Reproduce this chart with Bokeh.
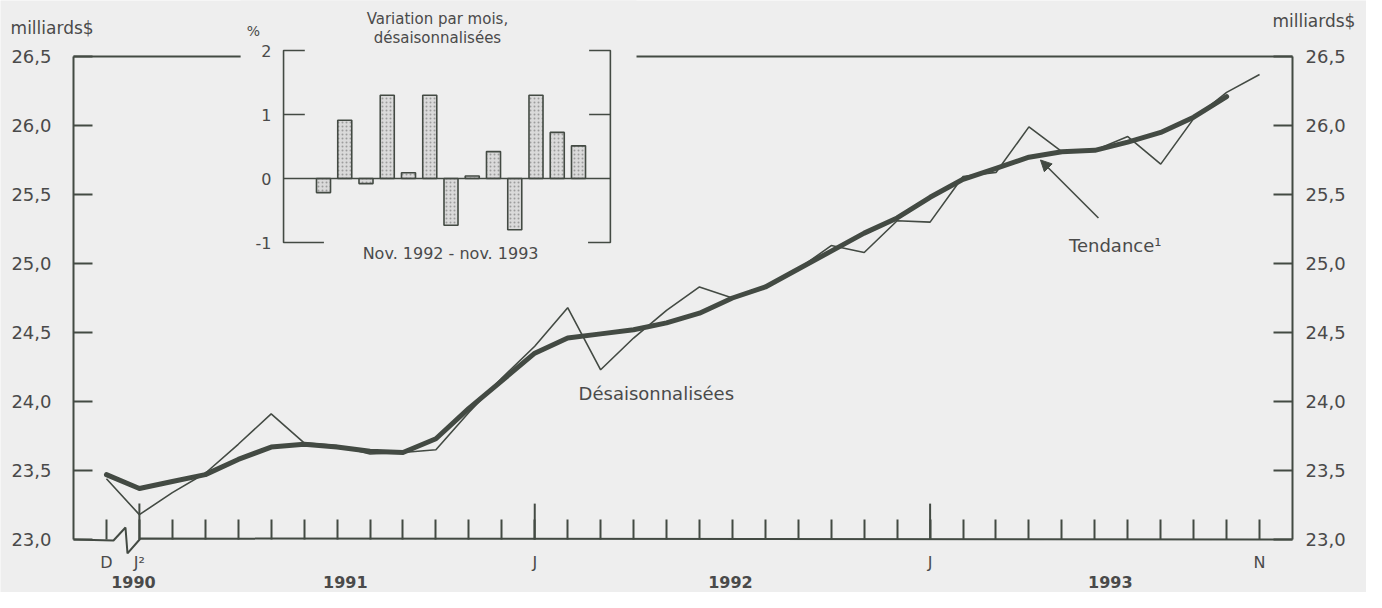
from bokeh.plotting import figure
from bokeh.models import (Range1d, LinearAxis, FixedTicker, Label, Arrow, NormalHead)
from bokeh.embed import file_html
from bokeh.resources import INLINE

# ---------------- data ----------------
# monthly index 0 = déc. 1990 ... 35 = nov. 1993
sa_values = [23.44,
             23.18, 23.34, 23.48, 23.69, 23.91, 23.70, 23.68, 23.62, 23.63, 23.65, 23.92, 24.17,
             24.40, 24.68, 24.23, 24.46, 24.66, 24.83, 24.75, 24.83, 24.96, 25.13, 25.08, 25.31,
             25.30, 25.63, 25.66, 25.99, 25.81, 25.82, 25.92, 25.72, 26.05, 26.24, 26.37]
trend_values = [23.47,
                23.37, 23.42, 23.47, 23.58, 23.67, 23.69, 23.67, 23.64, 23.63, 23.73, 23.95, 24.15,
                24.35, 24.46, 24.49, 24.52, 24.57, 24.64, 24.75, 24.83, 24.96, 25.09, 25.22, 25.33,
                25.48, 25.61, 25.69, 25.77, 25.81, 25.82, 25.88, 25.95, 26.06, 26.21]

inset_months = ["nov 92", "déc 92", "jan 93", "fév 93", "mar 93", "avr 93", "mai 93",
                "jun 93", "jul 93", "aoû 93", "sep 93", "oct 93", "nov 93"]
inset_change = [-0.22, 0.91, -0.08, 1.30, 0.09, 1.30, -0.73, 0.04, 0.42, -0.80, 1.30, 0.72, 0.51]

y_ticks = [23.0, 23.5, 24.0, 24.5, 25.0, 25.5, 26.0, 26.5]
y_tick_labels = ["23,0", "23,5", "24,0", "24,5", "25,0", "25,5", "26,0", "26,5"]
month_tick_pos = [0, 1, 13, 25, 35]
month_tick_labels = ["D", "J²", "J", "J", "N"]
year_labels = ["1990", "1991", "1992", "1993"]
year_label_pos = [0.82, 7.25, 18.94, 30.47]
inset_y_ticks = [2, 1, 0, -1]
inset_y_labels = ["2", "1", "0", "-1"]

# ---------------- style ----------------
BG = "#eeeeee"
INK = "#434a43"
TXT = "#4a4a4a"
FONT = "DejaVu Sans"
X0, X1 = -1, 36          # frame of the main chart (data units)
Y0, Y1 = 23.0, 26.5

p = figure(width=1366, height=592, output_backend="svg", toolbar_location=None,
           x_range=Range1d(-3.2155, 38.2458), y_range=Range1d(22.6159, 26.9058),
           x_axis_type=None, y_axis_type=None,
           min_border_left=0, min_border_right=0, min_border_top=0, min_border_bottom=0,
           background_fill_color=BG, border_fill_color=BG, outline_line_color=None)
p.extra_x_ranges = {"ix": Range1d(-15.2, 49.082)}
p.extra_y_ranges = {"pct": Range1d(-6.46875, 2.78125)}


def style_axis(ax, standoff, size="18px", tick_in=19):
    ax.axis_line_color = INK
    ax.axis_line_width = 2
    ax.major_tick_line_color = INK
    ax.major_tick_line_width = 2
    ax.major_tick_in = tick_in
    ax.major_tick_out = 0
    ax.minor_tick_line_color = None
    ax.major_label_text_font = FONT
    ax.major_label_text_font_size = size
    ax.major_label_text_color = TXT
    ax.major_label_standoff = standoff


y_over = dict(zip(y_ticks, y_tick_labels))
yl = LinearAxis(ticker=FixedTicker(ticks=y_ticks, minor_ticks=[]), bounds=(Y0, Y1),
                major_label_overrides=y_over, fixed_location=X0)
style_axis(yl, 22)
p.add_layout(yl, "left")
yr = LinearAxis(ticker=FixedTicker(ticks=y_ticks, minor_ticks=[]), bounds=(Y0, Y1),
                major_label_overrides=y_over, fixed_location=X1)
style_axis(yr, 13)
p.add_layout(yr, "right")

all_months = list(range(len(sa_values)))
x_over = {i: "" for i in all_months}
x_over.update(dict(zip(month_tick_pos, month_tick_labels)))
xb = LinearAxis(ticker=FixedTicker(ticks=all_months, minor_ticks=[]),
                major_label_overrides=x_over, fixed_location=Y0, bounds=(X0, X1))
style_axis(xb, 14, size="16px", tick_in=20)
xb.axis_line_color = None
p.add_layout(xb, "below")

# baseline with the break symbol between D and J
p.line([X0, 0.214, 0.578, 0.639, 1.033, X1], [Y0, 22.993, 23.087, 22.899, 23.007, Y0],
       line_color=INK, line_width=2)
# taller January ticks
jan_pos = [pos for pos, lab in zip(month_tick_pos, month_tick_labels) if lab.startswith("J")]
p.segment(x0=jan_pos, y0=[Y0] * len(jan_pos), x1=jan_pos, y1=[23.26] * len(jan_pos),
          line_color=INK, line_width=2)

# top frame line, then the inset's cover box
p.segment(x0=[X0], y0=[Y1], x1=[X1], y1=[Y1], line_color=INK, line_width=2)
p.quad(left=[-3.9], right=[14.73], bottom=[-1.35], top=[2.8], x_range_name="ix",
       y_range_name="pct", fill_color=BG, line_color=None)

# series
p.line(all_months, sa_values, line_color=INK, line_width=1.6)
p.line(list(range(len(trend_values))), trend_values, line_color=INK, line_width=5,
       line_join="round", line_cap="round")

# ---------------- inset ----------------
ix = list(range(len(inset_change)))
p.vbar(x=ix, top=inset_change, bottom=0, width=0.66, x_range_name="ix", y_range_name="pct",
       fill_color="#dadada", hatch_pattern=".", hatch_color="#8c8c8c", hatch_scale=4,
       hatch_alpha=0.8, line_color=INK, line_width=1.6)
L, R = -1.88, 13.5
p.multi_line(xs=[[L + 1.0, L, L, L + 1.9], [R - 1.0, R, R, R - 1.05],
                 [L, L + 1.0], [R - 1.0, R], [L, R]],
             ys=[[2, 2, -1, -1], [2, 2, -1, -1], [1, 1], [1, 1], [0, 0]],
             x_range_name="ix", y_range_name="pct", line_color=INK, line_width=1.6)
for yv, lab in zip(inset_y_ticks, inset_y_labels):
    p.add_layout(Label(x=-2.45, y=yv, x_range_name="ix", y_range_name="pct", text=lab,
                       text_font=FONT, text_font_size="16px", text_color=TXT,
                       text_align="right", text_baseline="middle"))
for txt, xx, yy, sz in [("%", -3.3, 2.31, "14px"),
                        ("Variation par mois,", 5.36, 2.5, "15px"),
                        ("désaisonnalisées", 5.36, 2.19, "15px"),
                        ("Nov. 1992 - nov. 1993", 5.98, -1.17, "16px")]:
    p.add_layout(Label(x=xx, y=yy, x_range_name="ix", y_range_name="pct", text=txt,
                       text_font=FONT, text_font_size=sz, text_color=TXT,
                       text_align="center", text_baseline="middle"))

# ---------------- annotations ----------------
for txt, xx, yy, al in [("milliards$", -2.91, 26.71, "left"),
                        ("milliards$", 37.91, 26.76, "right")]:
    p.add_layout(Label(x=xx, y=yy, text=txt, text_font=FONT, text_font_size="17px",
                       text_color=TXT, text_align=al, text_baseline="middle"))
p.add_layout(Label(x=16.69, y=24.06, text="Désaisonnalisées", text_font=FONT,
                   text_font_size="18px", text_color=TXT, text_align="center",
                   text_baseline="middle"))
p.add_layout(Label(x=30.62, y=25.13, text="Tendance¹", text_font=FONT,
                   text_font_size="18px", text_color=TXT, text_align="center",
                   text_baseline="middle"))
p.add_layout(Arrow(end=NormalHead(size=11, fill_color=INK, line_color=INK),
                   x_start=30.11, y_start=25.33, x_end=28.35, y_end=25.75,
                   line_color=INK, line_width=1.6))
for txt, xx in zip(year_labels, year_label_pos):
    p.add_layout(Label(x=xx, y=22.69, text=txt, text_font=FONT, text_font_size="16px",
                       text_font_style="bold", text_color=TXT, text_align="center",
                       text_baseline="middle"))

open("out.html", "w").write(file_html(p, INLINE))
